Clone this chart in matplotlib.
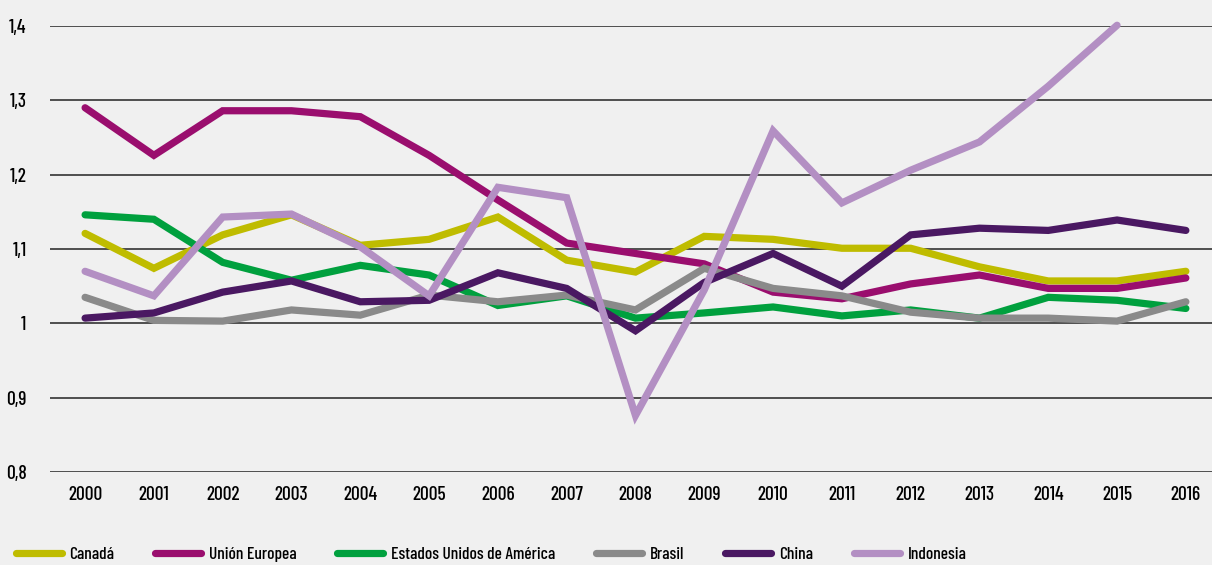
import matplotlib.pyplot as plt
import matplotlib.ticker as mticker

years = list(range(2000, 2017))

canada = [1.121, 1.074, 1.119, 1.146, 1.105, 1.113, 1.143, 1.085, 1.069, 1.117,
          1.113, 1.101, 1.101, 1.076, 1.057, 1.057, 1.070]
union_europea = [1.290, 1.226, 1.286, 1.286, 1.278, 1.226, 1.166, 1.108, 1.094, 1.080,
                 1.042, 1.033, 1.053, 1.065, 1.047, 1.047, 1.061]
eeuu = [1.146, 1.140, 1.082, 1.058, 1.078, 1.065, 1.024, 1.037, 1.007, 1.014,
        1.022, 1.010, 1.018, 1.007, 1.035, 1.031, 1.020]
brasil = [1.035, 1.004, 1.003, 1.018, 1.011, 1.038, 1.029, 1.038, 1.018, 1.074,
          1.047, 1.037, 1.015, 1.007, 1.007, 1.003, 1.029]
china = [1.007, 1.014, 1.042, 1.057, 1.029, 1.031, 1.068, 1.047, 0.990, 1.055,
         1.094, 1.050, 1.119, 1.128, 1.125, 1.139, 1.125]
indonesia = [1.070, 1.037, 1.143, 1.147, 1.103, 1.037, 1.183, 1.169, 0.876, 1.045,
             1.259, 1.162, 1.206, 1.244, 1.319, 1.401]

series = [
    ("Canadá", canada, "#BFBC00"),
    ("Unión Europea", union_europea, "#9A0E6E"),
    ("Estados Unidos de América", eeuu, "#00A03E"),
    ("Brasil", brasil, "#8A8A8A"),
    ("China", china, "#4A1862"),
    ("Indonesia", indonesia, "#B38FC3"),
]

# condensed face, close to the original's narrow sans
plt.rcParams["font.family"] = ["Barlow Condensed", "Roboto Condensed", "DejaVu Sans"]
bg = "#F0F0F0"

fig = plt.figure(figsize=(12.12, 5.65), dpi=100, facecolor=bg)
ax = fig.add_axes([50 / 1212, 1 - 472 / 565, 1162 / 1212, 446 / 565], facecolor=bg)

for name, vals, col in series:
    ax.plot(years[:len(vals)], vals, color=col, lw=5.2, label=name,
            solid_capstyle="round", solid_joinstyle="miter", clip_on=False, zorder=3)

ax.set_ylim(0.8, 1.4)
ax.set_xlim(1999.49, 2016.38)
ax.set_yticks([0.8, 0.9, 1.0, 1.1, 1.2, 1.3, 1.4])
ax.yaxis.set_major_formatter(mticker.FuncFormatter(
    lambda v, p: "1" if abs(v - 1) < 1e-9 else f"{v:.1f}".replace(".", ",")))
ax.set_xticks(years)
ax.grid(axis="y", color="#222222", lw=1.1, zorder=1)
ax.tick_params(length=0, labelsize=14, pad=10)
ax.tick_params(axis="y", pad=17)
for lab in ax.get_xticklabels() + ax.get_yticklabels():
    lab.set_fontweight(500)
for s in ax.spines.values():
    s.set_visible(False)

fig.legend(loc="lower left", bbox_to_anchor=(0.0, -0.022), ncol=6, frameon=False,
           handlelength=2.65, handletextpad=0.45, columnspacing=2.35,
           prop={"size": 12.5, "weight": 500})

fig.savefig("out.png", dpi=100, facecolor=bg)
